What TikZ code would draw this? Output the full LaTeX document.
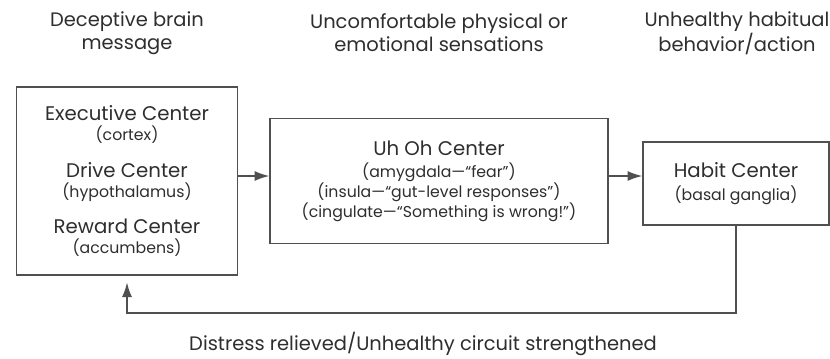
\documentclass[tikz,border=0pt]{standalone}
\usepackage{fontspec}
\setmainfont{Poppins}
\usetikzlibrary{arrows.meta}
\definecolor{linegray}{HTML}{505050}
\definecolor{textgray}{HTML}{2E2E2E}
\newcommand{\ttl}[1]{{\fontsize{14.8}{15}\selectfont #1}}
\newcommand{\subfont}{\fontsize{11.8}{15}\selectfont}
\newcommand{\headfont}{\fontsize{14.6}{17.25}\selectfont}

\begin{document}
\begin{tikzpicture}[x=0.75pt, y=-0.75pt,
  box/.style={draw=linegray, line width=1.1pt, inner sep=0pt, align=center, text=textgray, font=\subfont},
  head/.style={align=center, text=textgray, font=\headfont},
  arr/.style={-{Latex[length=11pt,width=7.5pt]}, draw=linegray, line width=1.1pt}
]
\useasboundingbox (0,0) rectangle (830,358);
% headers
\node[head] (h1) at (127,33) {Deceptive brain\\message};
\node[head] (h2) at (439,33) {Uncomfortable physical or\\emotional sensations};
\node[head] (h3) at (737,33) {Unhealthy habitual\\behavior/action};
% boxes
\node[box, minimum width=165.75pt, minimum height=141pt] (exe) at (127,181)
  {\ttl{Executive Center}\\(cortex)\\[12.5pt]
   \ttl{Drive Center}\\(hypothalamus)\\[12.5pt]
   \ttl{Reward Center}\\(accumbens)};
\node[box, minimum width=253.5pt, minimum height=94pt] (uhoh) at (439,181)
  {\ttl{Uh Oh Center}\\[1.5pt](amygdala—“fear”)\\(insula—“gut-level responses”)\\(cingulate—“Something is wrong!”)};
\node[box, minimum width=139.5pt, minimum height=62pt] (habit) at (736,183.5)
  {\ttl{Habit Center}\\[2pt](basal ganglia)};
% connectors
\coordinate (mid) at (0,176);
\coordinate (fb) at (0,313);
\draw[arr] (exe.east |- mid) -- (uhoh.west |- mid);
\draw[arr] (uhoh.east |- mid) -- (habit.west |- mid);
\draw[arr, shorten >=5pt] (habit.south) -- (habit.south |- fb) -- (exe.south |- fb) -- (exe.south);
\node[head, anchor=base] (relief) at (423,350) {Distress relieved/Unhealthy circuit strengthened};
\end{tikzpicture}
\end{document}
